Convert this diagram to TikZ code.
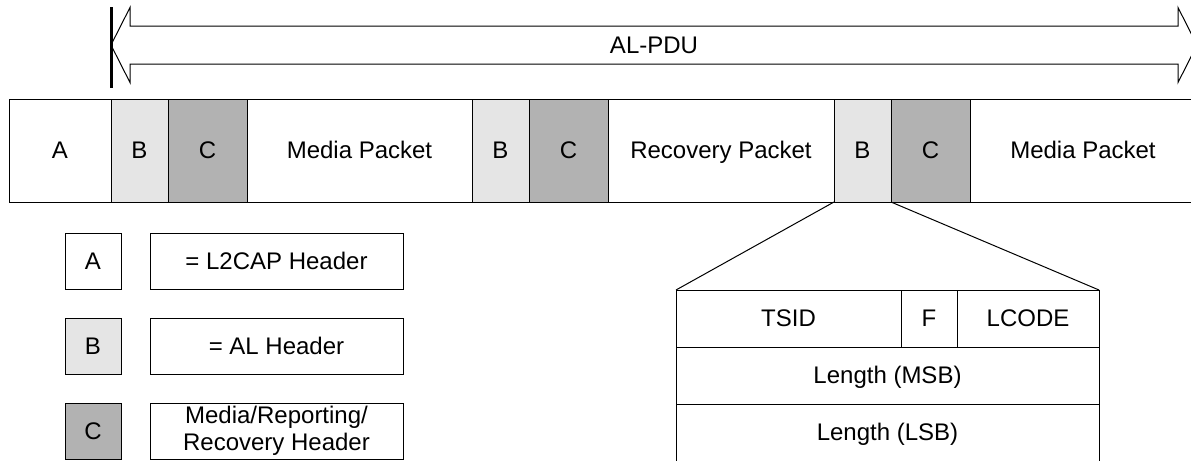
\documentclass[tikz,border=0pt]{standalone}
\usepackage{fontspec}
\setmainfont{Liberation Sans}
\usepackage{xcolor}
\usepackage{tikz}
\usetikzlibrary{positioning}
\colorlet{fillB}{gray!20}
\colorlet{fillC}{gray!60}
\tikzset{
  cell/.style={draw, outer sep=0pt, inner sep=0pt, minimum height=51.5pt,
    text height=8.6pt, text depth=0.6pt,
    font=\fontsize{12}{13.5}\selectfont},
  hdrB/.style={cell, fill=fillB, minimum width=28.5pt},
  hdrC/.style={cell, fill=fillC, minimum width=39.5pt},
  field/.style={cell, minimum height=28.5pt},
  key/.style={cell, minimum width=28pt, minimum height=28pt},
  keytext/.style={cell, minimum width=126.5pt, minimum height=28pt, align=center}
}

\begin{document}
\begin{tikzpicture}[x=0.5pt, y=-0.5pt, line width=0.5pt]
      \useasboundingbox (0,0) rectangle (1191,461);
      \clip (0,0) rectangle (1191,460);

      % AL-PDU span
      \draw (111,45) -- (130,7.5) -- (130,26) -- (1178,26) -- (1178,7.5)
        -- (1197,45) -- (1178,82.5) -- (1178,64) -- (130,64) -- (130,82.5) -- cycle;
      \draw[line width=1.5pt] (111,7) -- (111,88);
      \node[font=\fontsize{12}{13.5}\selectfont] (pdu) at (654,45) {AL-PDU};

      % Packet stream
      \node[cell, minimum width=51pt, anchor=north west] (a1) at (9,99) {A};
      \node[hdrB, right=0pt of a1] (b1) {B};
      \node[hdrC, right=0pt of b1] (c1) {C};
      \node[cell, minimum width=112.5pt, right=0pt of c1] (media1) {Media Packet};
      \node[hdrB, right=0pt of media1] (b2) {B};
      \node[hdrC, right=0pt of b2] (c2) {C};
      \node[cell, minimum width=113pt, right=0pt of c2] (recov) {Recovery Packet};
      \node[hdrB, right=0pt of recov] (b3) {B};
      \node[hdrC, right=0pt of b3] (c3) {C};
      \node[cell, minimum width=113pt, right=0pt of c3] (media2) {Media Packet};

      % AL header fields
      \node[field, minimum width=112.5pt, anchor=north west] (tsid) at (676,290) {TSID};
      \node[field, minimum width=28pt, right=0pt of tsid] (flag) {F};
      \node[field, minimum width=71pt, right=0pt of flag] (lcode) {LCODE};
      \node[field, minimum width=211.5pt, anchor=north west] (msb) at (tsid.south west) {Length (MSB)};
      \node[field, minimum width=211.5pt, anchor=north west] (lsb) at (msb.south west) {Length (LSB)};

      % Zoom lines
      \draw (b3.south west) -- (tsid.north west);
      \draw (b3.south east) -- (lcode.north east);

      % Legend
      \node[key, anchor=north west] (keyA) at (65,233) {A};
      \node[keytext, right=14.5pt of keyA] (txtA) {= L2CAP Header};
      \node[key, fill=fillB, below=14.5pt of keyA] (keyB) {B};
      \node[keytext, right=14.5pt of keyB] (txtB) {= AL Header};
      \node[key, fill=fillC, below=14.5pt of keyB] (keyC) {C};
      \node[keytext, text height=, text depth=, right=14.5pt of keyC] (txtC) {Media/Reporting/\\Recovery Header};
\end{tikzpicture}
\end{document}
